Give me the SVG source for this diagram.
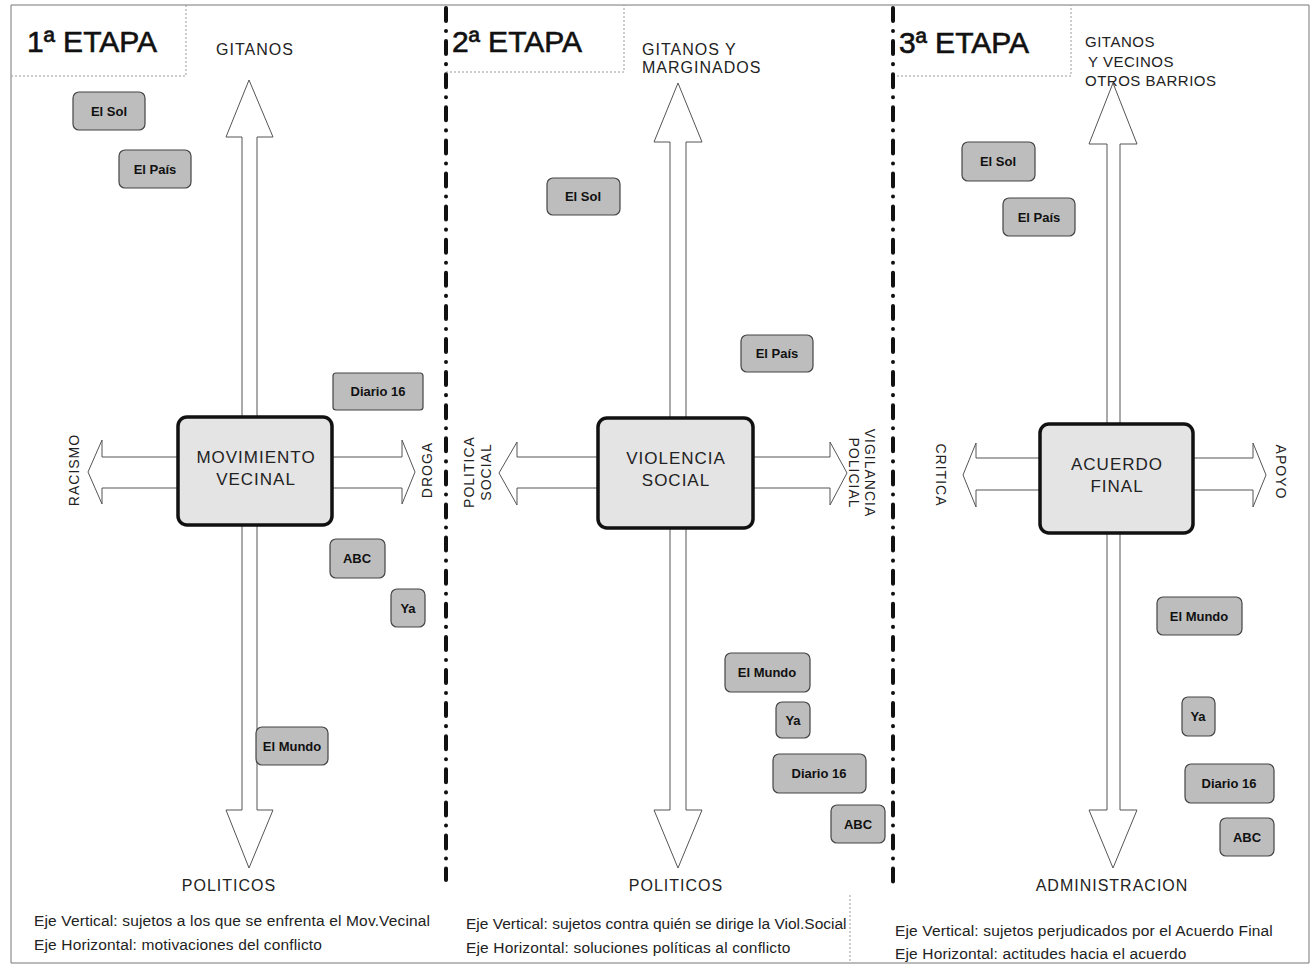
<svg xmlns="http://www.w3.org/2000/svg" width="1311" height="966" viewBox="0 0 1311 966">
<style>
.frame{fill:none;stroke:#777;stroke-width:1}
.hdr{fill:none;stroke:#999;stroke-width:1;stroke-dasharray:2 2}
.divider{fill:none;stroke:#111;stroke-width:4;stroke-linecap:round;stroke-dasharray:13 10 0.1 10}
.arrow{fill:#fff;stroke:#555;stroke-width:1}
.node{fill:#e4e4e4;stroke:#111;stroke-width:3.5}
.paper{fill:#bdbdbd;stroke:#444;stroke-width:1.2}
.title{font-family:"Liberation Sans",Arial,sans-serif;font-size:30px;fill:#111;stroke:#111;stroke-width:0.6}
.lab{font-family:"Liberation Sans",Arial,sans-serif;font-size:16px;fill:#222;letter-spacing:1px}
.lab3{font-family:"Liberation Sans",Arial,sans-serif;font-size:15px;fill:#222;letter-spacing:0.5px}
.rlab{font-family:"Liberation Sans",Arial,sans-serif;font-size:14px;fill:#222;letter-spacing:1px;text-anchor:middle}
.nlab{font-family:"Liberation Sans",Arial,sans-serif;font-size:17px;fill:#222;letter-spacing:1px;text-anchor:middle}
.plab{font-family:"Liberation Sans",Arial,sans-serif;font-size:13px;font-weight:bold;fill:#111;text-anchor:middle}
.note{font-family:"Liberation Sans",Arial,sans-serif;font-size:15.5px;fill:#222;letter-spacing:0.15px}
</style>

<g id="frame">
<path class="frame" d="M11 5 H1309 V963 H11 Z"/>
<path class="hdr" d="M11 76 H186 V5"/>
<path class="hdr" d="M446 72 H624 V5"/>
<path class="hdr" d="M893 76 H1071 V5"/>
<path class="hdr" d="M850 895 V963"/>
</g>

<g id="dividers">
<line class="divider" x1="446" y1="8" x2="446" y2="880"/>
<line class="divider" x1="893" y1="8" x2="893" y2="883"/>
</g>

<g id="titles">
<text class="title" x="27" y="52">1ª ETAPA</text>
<text class="title" x="452" y="52">2ª ETAPA</text>
<text class="title" x="899" y="53">3ª ETAPA</text>
</g>

<g id="connectors">
<!-- panel 1 -->
<polygon class="arrow" points="249,80 273,137 257,137 257,810 273,810 249,868 226,810 242,810 242,137 226,137"/>
<polygon class="arrow" points="88,472 102,440 102,457 402,457 402,440 415,472 402,504 402,488 102,488 102,504"/>
<!-- panel 2 -->
<polygon class="arrow" points="678,83 702,142 686,142 686,810 702,810 678,868 654,810 670,810 670,142 654,142"/>
<polygon class="arrow" points="499,473 517,442 517,457 830,457 830,442 847,473 830,505 830,488 517,488 517,505"/>
<!-- panel 3 -->
<polygon class="arrow" points="1113,83 1137,144 1120,144 1120,810 1137,810 1113,868 1089,810 1107,810 1107,144 1089,144"/>
<polygon class="arrow" points="963,475 976,443 976,458 1253,458 1253,443 1266,475 1253,507 1253,490 976,490 976,507"/>
</g>

<g id="axis-labels">
<text class="lab" x="216" y="55">GITANOS</text>
<text class="lab" x="229" y="891" text-anchor="middle">POLITICOS</text>
<text class="rlab" transform="translate(79,470) rotate(-90)">RACISMO</text>
<text class="rlab" transform="translate(432,470) rotate(-90)">DROGA</text>

<text class="lab" x="642" y="55">GITANOS Y</text>
<text class="lab" x="642" y="73">MARGINADOS</text>
<text class="lab" x="676" y="891" text-anchor="middle">POLITICOS</text>
<text class="rlab" transform="translate(474,472) rotate(-90)">POLITICA</text>
<text class="rlab" transform="translate(491,472) rotate(-90)">SOCIAL</text>
<text class="rlab" transform="translate(865,473) rotate(90)">VIGILANCIA</text>
<text class="rlab" transform="translate(849,473) rotate(90)">POLICIAL</text>

<text class="lab3" x="1085" y="47">GITANOS</text>
<text class="lab3" x="1088" y="67">Y VECINOS</text>
<text class="lab3" x="1085" y="86">OTROS BARRIOS</text>
<text class="lab" x="1112" y="891" text-anchor="middle">ADMINISTRACION</text>
<text class="rlab" transform="translate(936,475) rotate(90)">CRITICA</text>
<text class="rlab" transform="translate(1276,472) rotate(90)">APOYO</text>
</g>

<g id="node-movimiento">
<rect class="node" x="178" y="417" width="154" height="108" rx="9"/>
<text class="nlab" x="256" y="463">MOVIMIENTO</text>
<text class="nlab" x="256" y="485">VECINAL</text>
</g>
<g id="node-violencia">
<rect class="node" x="598" y="418" width="155" height="110" rx="9"/>
<text class="nlab" x="676" y="464">VIOLENCIA</text>
<text class="nlab" x="676" y="486">SOCIAL</text>
</g>
<g id="node-acuerdo">
<rect class="node" x="1040" y="424" width="153" height="109" rx="9"/>
<text class="nlab" x="1117" y="470">ACUERDO</text>
<text class="nlab" x="1117" y="492">FINAL</text>
</g>

<!-- panel 1 newspapers -->
<g id="p1-elsol"><rect class="paper" x="73" y="92" width="72" height="38" rx="6"/><text class="plab" x="109" y="116">El Sol</text></g>
<g id="p1-elpais"><rect class="paper" x="119" y="150" width="72" height="38" rx="6"/><text class="plab" x="155" y="174">El País</text></g>
<g id="p1-diario16"><rect class="paper" x="333" y="373" width="90" height="37" rx="3"/><text class="plab" x="378" y="396">Diario 16</text></g>
<g id="p1-abc"><rect class="paper" x="330" y="539" width="55" height="39" rx="6"/><text class="plab" x="357" y="563">ABC</text></g>
<g id="p1-ya"><rect class="paper" x="391" y="589" width="34" height="38" rx="6"/><text class="plab" x="408" y="613">Ya</text></g>
<g id="p1-elmundo"><rect class="paper" x="256" y="727" width="72" height="38" rx="6"/><text class="plab" x="292" y="751">El Mundo</text></g>

<!-- panel 2 newspapers -->
<g id="p2-elsol"><rect class="paper" x="547" y="178" width="73" height="37" rx="6"/><text class="plab" x="583" y="201">El Sol</text></g>
<g id="p2-elpais"><rect class="paper" x="741" y="335" width="72" height="37" rx="6"/><text class="plab" x="777" y="358">El País</text></g>
<g id="p2-elmundo"><rect class="paper" x="725" y="653" width="85" height="39" rx="6"/><text class="plab" x="767" y="677">El Mundo</text></g>
<g id="p2-ya"><rect class="paper" x="776" y="702" width="34" height="36" rx="6"/><text class="plab" x="793" y="725">Ya</text></g>
<g id="p2-diario16"><rect class="paper" x="773" y="754" width="93" height="39" rx="6"/><text class="plab" x="819" y="778">Diario 16</text></g>
<g id="p2-abc"><rect class="paper" x="831" y="805" width="54" height="38" rx="6"/><text class="plab" x="858" y="829">ABC</text></g>

<!-- panel 3 newspapers -->
<g id="p3-elsol"><rect class="paper" x="962" y="142" width="73" height="39" rx="6"/><text class="plab" x="998" y="166">El Sol</text></g>
<g id="p3-elpais"><rect class="paper" x="1003" y="198" width="72" height="38" rx="6"/><text class="plab" x="1039" y="222">El País</text></g>
<g id="p3-elmundo"><rect class="paper" x="1157" y="597" width="85" height="38" rx="6"/><text class="plab" x="1199" y="621">El Mundo</text></g>
<g id="p3-ya"><rect class="paper" x="1182" y="697" width="33" height="39" rx="6"/><text class="plab" x="1198" y="721">Ya</text></g>
<g id="p3-diario16"><rect class="paper" x="1185" y="764" width="89" height="39" rx="6"/><text class="plab" x="1229" y="788">Diario 16</text></g>
<g id="p3-abc"><rect class="paper" x="1220" y="818" width="54" height="38" rx="6"/><text class="plab" x="1247" y="842">ABC</text></g>

<g id="notes">
<text class="note" x="34" y="926">Eje Vertical: sujetos a los que se enfrenta el Mov.Vecinal</text>
<text class="note" x="34" y="950">Eje Horizontal: motivaciones del conflicto</text>
<text class="note" x="466" y="929" style="letter-spacing:0">Eje Vertical: sujetos contra quién se dirige la Viol.Social</text>
<text class="note" x="466" y="953">Eje Horizontal: soluciones políticas al conflicto</text>
<text class="note" x="895" y="936">Eje Vertical: sujetos perjudicados por el Acuerdo Final</text>
<text class="note" x="895" y="959">Eje Horizontal: actitudes hacia el acuerdo</text>
</g>
</svg>
